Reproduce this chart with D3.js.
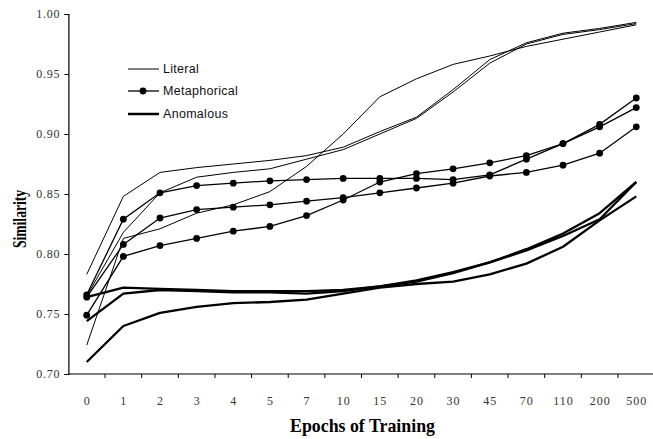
<!DOCTYPE html>
<html><head><meta charset="utf-8">
<script src="https://cdn.jsdelivr.net/npm/d3@7"></script>
<style>body{margin:0;background:#fff}svg{display:block}</style>
</head><body>
<svg id="c" width="653" height="439"></svg>
<script>
const epochs = ["0","1","2","3","4","5","7","10","15","20","30","45","70","110","200","500"];
const yTicks = [0.70,0.75,0.80,0.85,0.90,0.95,1.00];

const literal1 = [0.783,0.848,0.868,0.872,0.875,0.878,0.882,0.889,0.902,0.914,0.937,0.962,0.976,0.984,0.988,0.993];
const literal2 = [0.765,0.818,0.851,0.864,0.868,0.871,0.879,0.887,0.900,0.913,0.935,0.959,0.975,0.983,0.987,0.992];
const literal3 = [0.724,0.813,0.821,0.834,0.841,0.852,0.873,0.900,0.931,0.946,0.958,0.965,0.973,0.979,0.985,0.991];

const metaphorical1 = [0.766,0.829,0.851,0.857,0.859,0.861,0.862,0.863,0.863,0.863,0.862,0.866,0.879,0.892,0.906,0.922];
const metaphorical2 = [0.764,0.808,0.830,0.837,0.839,0.841,0.844,0.847,0.851,0.855,0.859,0.865,0.868,0.874,0.884,0.906];
const metaphorical3 = [0.749,0.798,0.807,0.813,0.819,0.823,0.832,0.845,0.860,0.867,0.871,0.876,0.882,0.892,0.908,0.930];

const anomalous1 = [0.764,0.772,0.771,0.770,0.769,0.769,0.769,0.770,0.773,0.778,0.785,0.793,0.804,0.817,0.834,0.860];
const anomalous2 = [0.744,0.767,0.770,0.769,0.768,0.768,0.767,0.769,0.773,0.777,0.784,0.793,0.803,0.815,0.829,0.860];
const anomalous3 = [0.710,0.740,0.751,0.756,0.759,0.760,0.762,0.767,0.772,0.775,0.777,0.783,0.792,0.806,0.828,0.848];

const legendLabels = ["Literal","Metaphorical","Anomalous"];

const svg = d3.select("#c");
const x0 = 68.4, x1 = 654.6, yTop = 14, yBot = 374;
const x = d3.scalePoint().domain(epochs).range([x0, x1]).padding(0.5);
const xb = d3.scaleBand().domain(epochs).range([x0, x1]).paddingInner(0).paddingOuter(0);
const y = d3.scaleLinear().domain([0.70, 1.00]).range([yBot, yTop]);

const line = d3.line().x((d,i)=>x(epochs[i])).y(d=>y(d));
const serif = "'Liberation Serif','Times New Roman',Times,serif";
const sans = "'Liberation Sans',Arial,Helvetica,sans-serif";

// axes
const ya = svg.append("g").attr("transform",`translate(${x0},0)`)
  .call(d3.axisLeft(y).tickValues(yTicks).tickFormat(d3.format(".2f")).tickSize(4).tickPadding(4));
ya.select(".domain").attr("stroke","#000").attr("stroke-width",1.2);
ya.selectAll(".tick line").attr("stroke","#000");
ya.selectAll(".tick text").attr("font-family",serif).attr("font-size",12).attr("letter-spacing","0.8px").attr("fill","#333");

const xa = svg.append("g").attr("transform",`translate(0,${yBot})`)
  .call(d3.axisBottom(x).tickSize(0).tickPadding(22));
xa.select(".domain").remove();
xa.selectAll(".tick text").attr("font-family",serif).attr("font-size",12).attr("letter-spacing","1px").attr("fill","#333");
svg.append("line").attr("x1",x0).attr("x2",653).attr("y1",yBot).attr("y2",yBot).attr("stroke","#000").attr("stroke-width",1.2);
svg.append("g").selectAll("line").data(epochs.slice(1)).join("line")
  .attr("x1",d=>xb(d)).attr("x2",d=>xb(d)).attr("y1",yBot).attr("y2",yBot+4)
  .attr("stroke","#000").attr("stroke-width",1);

// titles
svg.append("text").attr("x",362.5).attr("y",432).attr("text-anchor","middle")
  .attr("font-family",serif).attr("font-weight","bold").attr("font-size",19)
  .attr("textLength",145).attr("lengthAdjust","spacingAndGlyphs").text("Epochs of Training");
svg.append("text").attr("transform","translate(26,219) rotate(-90)").attr("text-anchor","middle")
  .attr("font-family",serif).attr("font-weight","bold").attr("font-size",19)
  .attr("textLength",58).attr("lengthAdjust","spacingAndGlyphs").text("Similarity");

// series
const g = svg.append("g");
[literal1,literal2,literal3].forEach(s=>{
  g.append("path").attr("d",line(s)).attr("fill","none").attr("stroke","#000").attr("stroke-width",1);
});
[anomalous1,anomalous2,anomalous3].forEach(s=>{
  g.append("path").attr("d",line(s)).attr("fill","none").attr("stroke","#000").attr("stroke-width",2.3).attr("stroke-linejoin","round");
});
[metaphorical1,metaphorical2,metaphorical3].forEach(s=>{
  g.append("path").attr("d",line(s)).attr("fill","none").attr("stroke","#000").attr("stroke-width",1.3);
  g.append("g").selectAll("circle").data(s).join("circle")
    .attr("cx",(d,i)=>x(epochs[i])).attr("cy",d=>y(d)).attr("r",3.4).attr("fill","#000");
});

// legend
const lg = svg.append("g");
const ly = [69,91,114], lw = [1,1.3,2.5];
legendLabels.forEach((t,i)=>{
  lg.append("line").attr("x1",128).attr("x2",159).attr("y1",ly[i]).attr("y2",ly[i]).attr("stroke","#000").attr("stroke-width",lw[i]);
  if(i===1) lg.append("circle").attr("cx",143).attr("cy",ly[i]).attr("r",3.4).attr("fill","#000");
  lg.append("text").attr("x",163).attr("y",ly[i]).attr("dy","0.35em").attr("font-family",sans).attr("font-size",12.5)
    .attr("letter-spacing","0.3px").attr("fill","#111").text(t);
});
</script>
</body></html>
